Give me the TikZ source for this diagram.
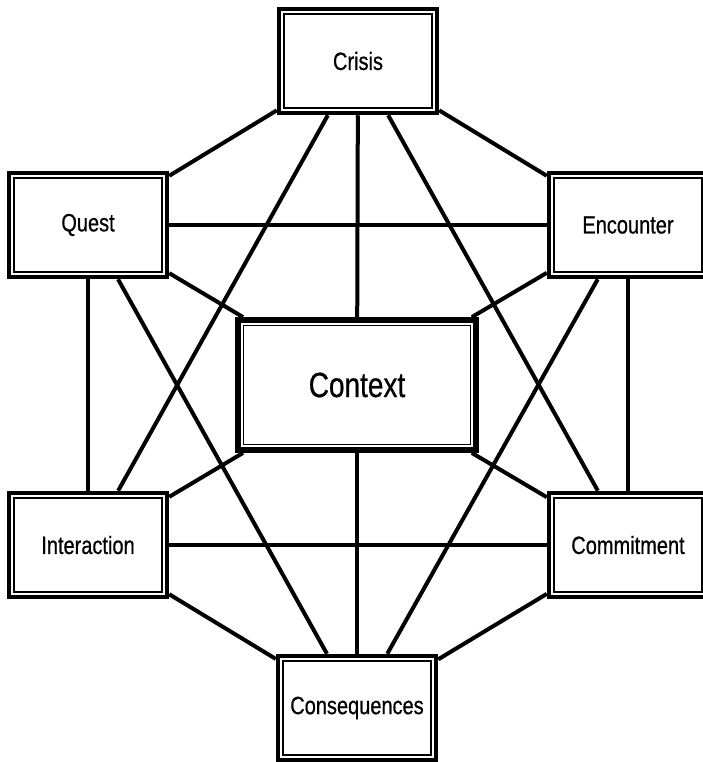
\documentclass[tikz,border=0pt]{standalone}
\usepackage{fontspec}
\setmainfont{Liberation Sans}[FakeStretch=0.8, FakeBold=0.6]
\usepackage{tikz}
\usetikzlibrary{positioning}

\begin{document}
\begin{tikzpicture}[
  x=1pt, y=-1pt,
  every node/.style={draw, fill=white, align=center, inner sep=0pt},
  inner_line/.style={path picture={
    \draw[line width=1.4pt]
      ([shift={(#1,#1)}]path picture bounding box.south west) rectangle
      ([shift={(-#1,-#1)}]path picture bounding box.north east);}},
  stage_node/.style={line width=4.5pt, minimum width=158pt,
    minimum height=104pt, inner_line=5pt,
    font=\fontsize{25}{30}\selectfont},
  context_node/.style={line width=5.8pt, minimum width=238pt,
    minimum height=130pt, inner_line=5.6pt,
    font=\fontsize{35}{42}\selectfont},
  link/.style={line width=4pt},
]
\useasboundingbox (0,0) rectangle (703,762);

% the six stages round the context
\node[context_node] (context) at (357,385) {Context};
\node[stage_node] (crisis) at (358,61) {Crisis};
\node[stage_node] (quest) at (88,225) {Quest};
\node[stage_node] (encounter) at (628,225) {Encounter};
\node[stage_node] (interaction) at (88,545) {Interaction};
\node[stage_node] (commitment) at (628,545) {Commitment};
\node[stage_node] (consequences) at (357,708) {Consequences};

% links
\foreach \a/\b in {crisis/quest, crisis/encounter, crisis/context,
    crisis/interaction, crisis/commitment,
    quest/encounter, quest/context, quest/interaction, quest/consequences,
    encounter/context, encounter/commitment, encounter/consequences,
    interaction/context, interaction/commitment, interaction/consequences,
    commitment/context, commitment/consequences,
    context/consequences}
  \draw[link] (\a) -- (\b);
\end{tikzpicture}
\end{document}
